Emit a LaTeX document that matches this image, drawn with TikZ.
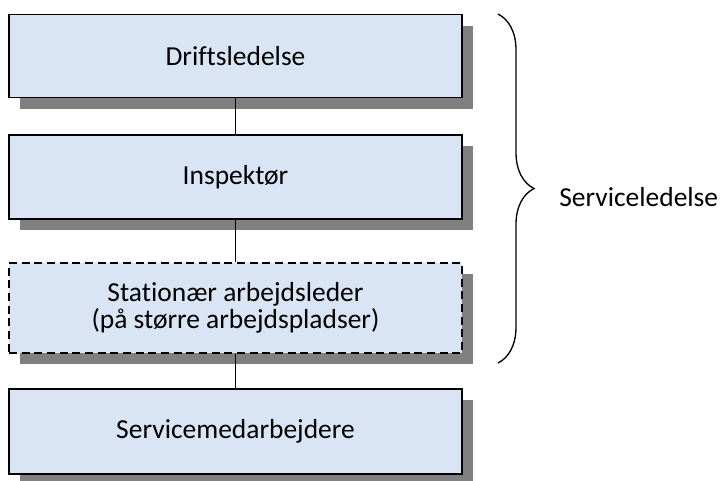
\documentclass[tikz,border=0pt]{standalone}
\usepackage{fontspec}
\setmainfont{Carlito}[Ligatures=CommonOff]
\usepackage{tikz}
\usetikzlibrary{decorations.pathreplacing,shadows}
\definecolor{boxfill}{RGB}{217,229,244}
\definecolor{shadowgray}{RGB}{128,128,128}
\newcommand{\boxw}{339.75pt}
\newcommand{\boxfont}{\fontsize{20.6}{19.8}\selectfont}
\tikzset{
  orgbox/.style={draw=black, line width=1.1pt, fill=boxfill, align=center,
    minimum width=\boxw, inner sep=0pt,
    drop shadow={shadow xshift=8.25pt, shadow yshift=-8.25pt, fill=shadowgray, opacity=1},
    font=\boxfont},
  optbox/.style={orgbox, dash pattern=on 6pt off 3.5pt},
  link/.style={line width=0.9pt}
}

\begin{document}
\begin{tikzpicture}[x=0.75pt, y=-0.75pt]
                %\draw[help lines] (0,0) grid (721,480);
                \useasboundingbox (0,0) rectangle (721,480);
                \node[orgbox, minimum height=62.25pt] (drift) at (235.5,56) {Driftsledelse};
                \node[orgbox, minimum height=63pt] (insp) at (235.5,177) {Inspektør};
                \node[optbox, minimum height=67.5pt] (stat) at (235.5,308) {Stationær arbejdsleder\\(på større arbejdspladser)};
                \node[orgbox, minimum height=63.75pt] (serv) at (235.5,431.5) {Servicemedarbejdere};
                \draw[link] (drift) -- (insp);
                \draw[link] (insp) -- (stat);
                \draw[link] (stat) -- (serv);
                % brace over the three top levels
                \coordinate (brtop) at (498,14);
                \coordinate (brbot) at (498,363);
                \draw[line width=1pt, decorate, decoration={brace, amplitude=27pt}] (brtop) -- (brbot);
                \node[anchor=west, inner sep=0pt, font=\boxfont] (lead) at (559,197) {Serviceledelse};
        \end{tikzpicture}
\end{document}
